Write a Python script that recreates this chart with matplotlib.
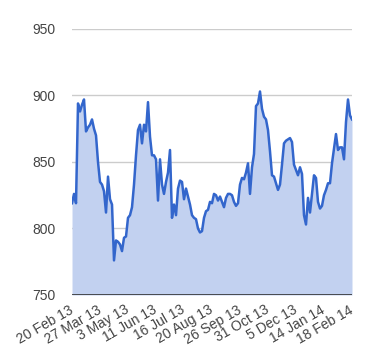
"""Area chart of a daily price series, Feb 2013 - Feb 2014."""
import matplotlib
matplotlib.use("Agg")
import matplotlib.pyplot as plt

plt.rcParams["font.family"] = ["Liberation Sans", "DejaVu Sans"]

# values, evenly spaced sessions
values = [
    819, 826, 819, 894, 888, 893, 897, 873, 876, 878,
    882, 875, 870, 850, 835, 833, 828, 812, 839, 822,
    818, 776, 791, 790, 788, 783, 793, 794, 808, 810,
    816, 833, 855, 874, 878, 864, 878, 873, 895, 869,
    855, 855, 852, 821, 852, 833, 826, 835, 842, 859,
    808, 818, 810, 830, 836, 835, 822, 830, 824, 818,
    810, 808, 807, 800, 797, 798, 808, 813, 814, 820,
    819, 826, 825, 821, 824, 820, 816, 823, 826, 826,
    825, 820, 817, 819, 833, 838, 837, 842, 849, 826,
    846, 856, 892, 894, 903, 890, 884, 882, 874, 858,
    840, 839, 834, 829, 833, 848, 864, 866, 867, 868,
    865, 848, 844, 840, 846, 841, 810, 803, 823, 812,
    826, 840, 838, 820, 815, 817, 825, 829, 834, 834,
    849, 860, 871, 859, 861, 861, 852, 880, 897, 885,
    882,
]
tick_labels = ["20 Feb 13", "27 Mar 13", "3 May 13", "11 Jun 13",
               "16 Jul 13", "20 Aug 13", "26 Sep 13", "31 Oct 13",
               "5 Dec 13", "14 Jan 14", "18 Feb 14"]
y_ticks = [750, 800, 850, 900, 950]

x = list(range(len(values)))
step = (len(values) - 1) // (len(tick_labels) - 1)

fig = plt.figure(figsize=(3.8, 3.6), dpi=100)
ax = fig.add_axes([0.1895, 0.1806, 0.7368, 0.7389])

ax.fill_between(x, 750, values, color="#c2d1f0", linewidth=0, zorder=2)
ax.plot(x, values, color="#3366cc", linewidth=1.8, zorder=3)

ax.set_xlim(0, len(values) - 1)
ax.set_ylim(750, 950)
ax.set_yticks(y_ticks)
ax.set_yticklabels([str(v) for v in y_ticks])
ax.set_xticks(x[::step])
ax.set_xticklabels(tick_labels, rotation=30, ha="right", va="center",
                   rotation_mode="anchor")

ax.grid(axis="y", color="#cccccc", linewidth=1, zorder=1)
ax.axhline(750, color="#333333", linewidth=1.2, zorder=4)
for side in ax.spines.values():
    side.set_visible(False)
ax.tick_params(axis="both", length=0, labelsize=10, colors="#444444")
ax.tick_params(axis="y", pad=12)
ax.tick_params(axis="x", pad=10)

fig.savefig("out.png", dpi=100)
